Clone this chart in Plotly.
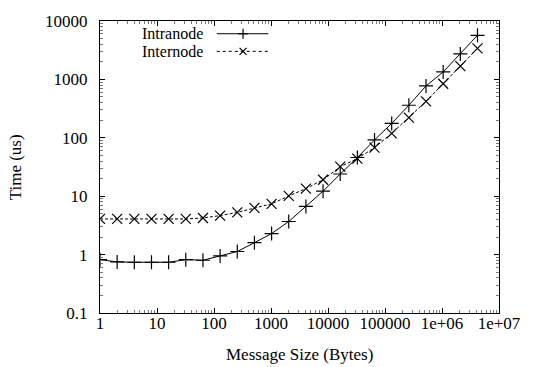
import plotly.graph_objects as go

sizes = [2**i for i in range(23)]
intranode = [0.82, 0.75, 0.74, 0.74, 0.74, 0.82, 0.80, 0.95, 1.13, 1.6, 2.29, 3.69, 6.67,
             12.2, 24.0, 46, 92, 176, 361, 772, 1342, 2730, 5690]
internode = [4.08, 4.08, 4.08, 4.08, 4.08, 4.08, 4.24, 4.65, 5.28, 6.3, 7.4, 10.1, 13.5,
             19.1, 32.0, 44, 68, 119, 222, 421, 843, 1690, 3390]

x_tickvals = [1, 10, 100, 1000, 10000, 100000, 1e6, 1e7]
x_ticktext = ["1", "10", "100", "1000", "10000", "100000", "1e+06", "1e+07"]
y_tickvals = [0.1, 1, 10, 100, 1000, 10000]
y_ticktext = ["0.1", "1", "10", "100", "1000", "10000"]

FONT = "Liberation Serif"
W, H = 533, 367
L, R, T, B = 100, 23, 15, 54

minor_x = [m * 10**e for e in range(0, 7) for m in range(2, 10)]
minor_y = [m * 10**e for e in range(-1, 4) for m in range(2, 10)]

fig = go.Figure()
fig.add_trace(go.Scatter(
    x=sizes, y=intranode, mode="lines+markers", name="Intranode",
    line=dict(color="black", width=1),
    marker=dict(symbol="cross-thin-open", size=10, line=dict(color="black", width=1.2)),
    showlegend=False))
fig.add_trace(go.Scatter(
    x=sizes, y=internode, mode="lines+markers", name="Internode",
    line=dict(color="black", width=1, dash="3px,2px"),
    marker=dict(symbol="x-thin-open", size=10, line=dict(color="black", width=1.2)),
    showlegend=False))

axis_common = dict(
    type="log", showline=True, linecolor="black", linewidth=1, mirror="allticks",
    ticks="inside", ticklen=5, tickwidth=1, tickcolor="black", showgrid=False,
    zeroline=False, tickfont=dict(family=FONT, size=17, color="black"),
)
fig.update_xaxes(**axis_common, range=[0, 7], tickmode="array",
                 tickvals=x_tickvals, ticktext=x_ticktext, ticklabelstandoff=-5,
                 minor=dict(tickmode="array", tickvals=minor_x, ticks="inside",
                            ticklen=3, tickcolor="#777", tickwidth=1))
fig.update_yaxes(**axis_common, range=[-1, 4], tickmode="array",
                 tickvals=y_tickvals, ticktext=y_ticktext, ticklabelstandoff=8,
                 minor=dict(tickmode="array", tickvals=minor_y, ticks="inside",
                            ticklen=3, tickcolor="#777", tickwidth=1))

pw, ph = W - L - R, H - T - B
def px(xp):
    return (xp - L) / pw
def py(yp):
    return (H - B - yp) / ph

annotations = [
    dict(text="Message Size (Bytes)", x=0.5, y=py(355), xref="paper", yref="paper",
         xanchor="center", yanchor="middle",
         showarrow=False, font=dict(family=FONT, size=17, color="black")),
    dict(text="Time (us)", x=px(13), y=0.5, xref="paper", yref="paper", textangle=-90,
         xanchor="center", yanchor="middle",
         showarrow=False, font=dict(family=FONT, size=17, color="black")),
]

shapes = []
legend_items = [("Intranode", 28, "plus", None), ("Internode", 46, "x", "dot")]
for label, ypix, sym, dash in legend_items:
    annotations.append(dict(text=label, x=px(208), y=py(ypix), xref="paper", yref="paper",
                            xanchor="right", yanchor="middle", showarrow=False,
                            font=dict(family=FONT, size=16, color="black")))
    ln = dict(color="black", width=1)
    if dash:
        ln["dash"] = dash
    shapes.append(dict(type="line", xref="paper", yref="paper", x0=px(220), x1=px(273),
                       y0=py(ypix), y1=py(ypix), line=ln))
    cx, cy = 247, ypix
    seg = dict(color="black", width=1.2)
    if sym == "plus":
        s = 5
        shapes.append(dict(type="line", xref="paper", yref="paper", x0=px(cx - s), x1=px(cx + s),
                           y0=py(cy), y1=py(cy), line=seg))
        shapes.append(dict(type="line", xref="paper", yref="paper", x0=px(cx), x1=px(cx),
                           y0=py(cy - s), y1=py(cy + s), line=seg))
    else:
        s = 3.6
        shapes.append(dict(type="line", xref="paper", yref="paper", x0=px(cx - s), x1=px(cx + s),
                           y0=py(cy - s), y1=py(cy + s), line=seg))
        shapes.append(dict(type="line", xref="paper", yref="paper", x0=px(cx - s), x1=px(cx + s),
                           y0=py(cy + s), y1=py(cy - s), line=seg))

fig.update_layout(
    width=W, height=H, margin=dict(l=L, r=R, t=T, b=B),
    paper_bgcolor="white", plot_bgcolor="white",
    annotations=annotations, shapes=shapes, showlegend=False,
    font=dict(family=FONT, size=17, color="black"),
)
fig.write_html("out.html")
